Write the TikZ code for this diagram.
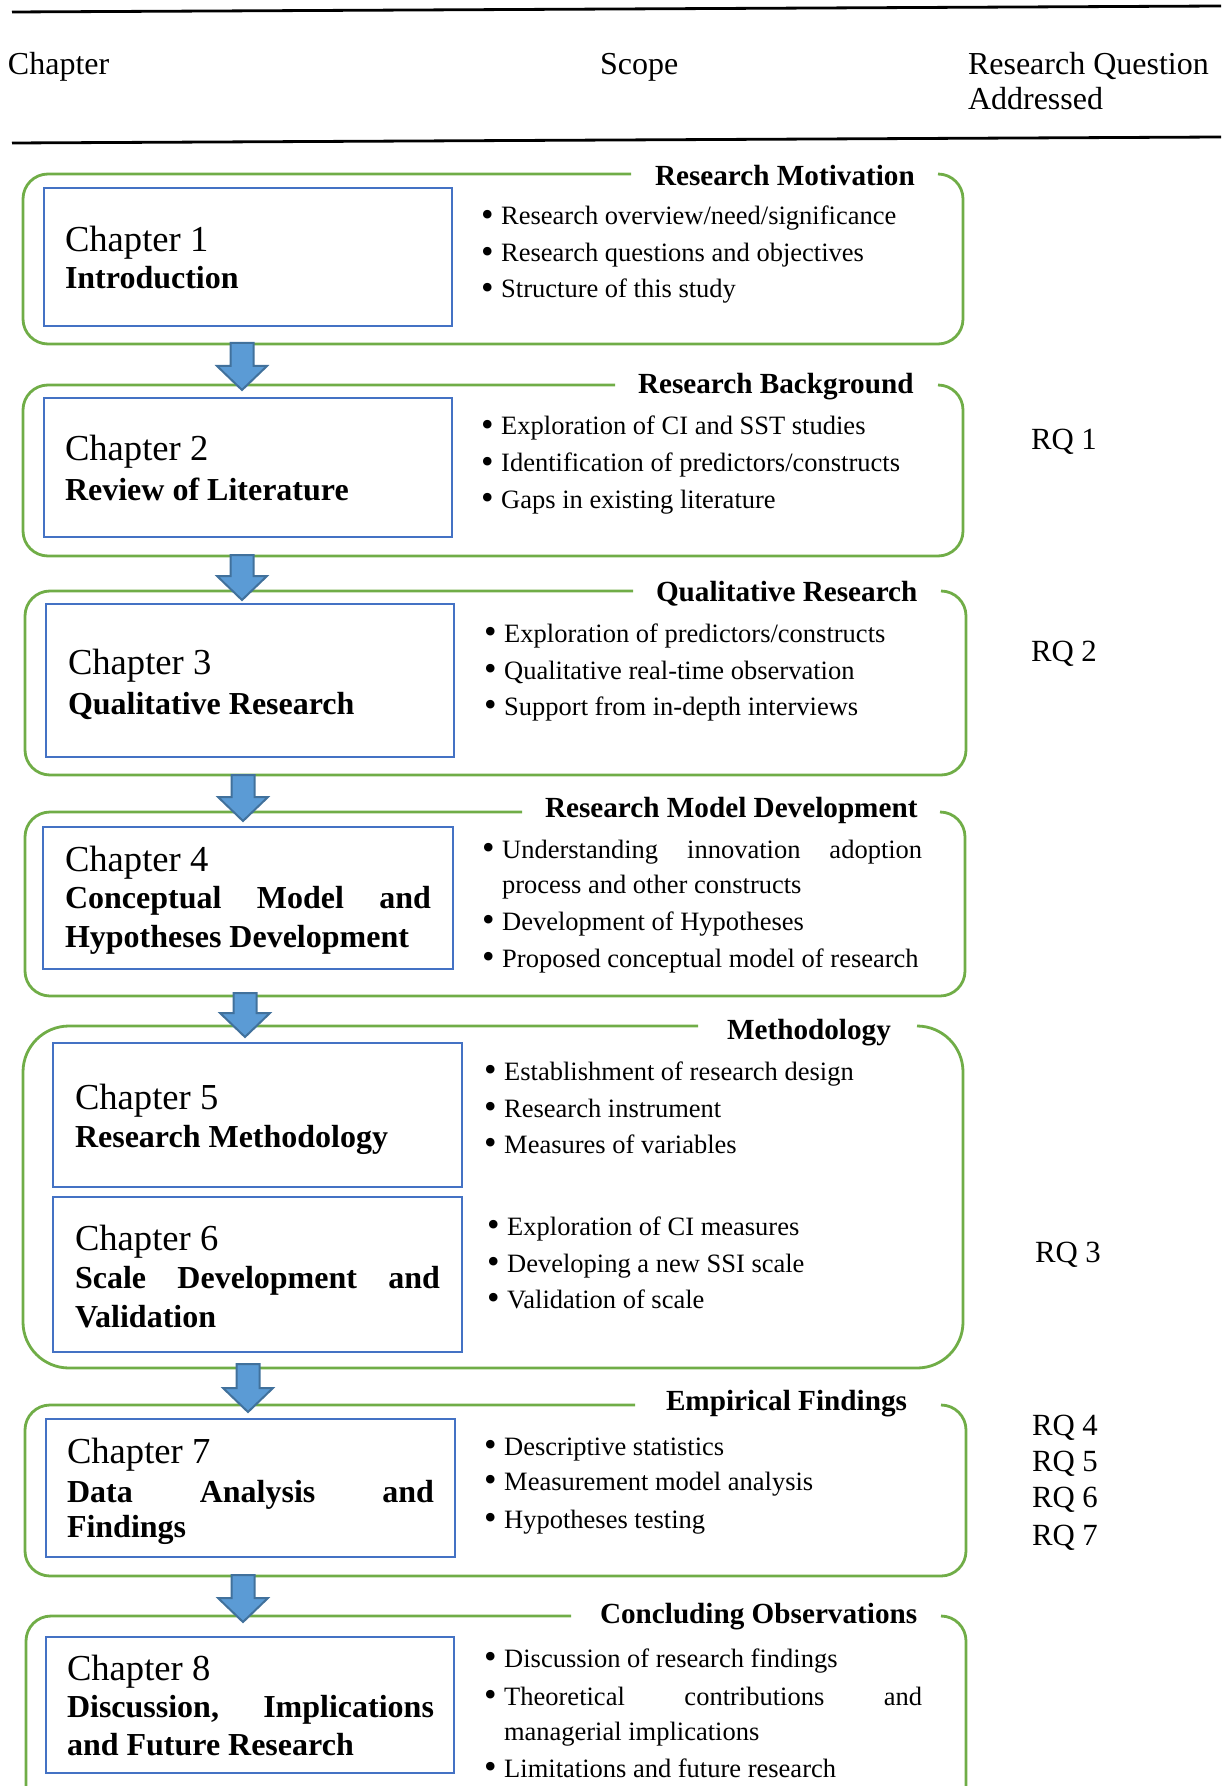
\documentclass[tikz,border=0pt]{standalone}
\usepackage{fontspec}
\setmainfont{Liberation Serif}
\usetikzlibrary{calc}
\definecolor{frameGreen}{HTML}{70AD47}
\definecolor{boxBlue}{HTML}{4472C4}
\definecolor{arrowFill}{HTML}{5B9BD5}
\definecolor{arrowLine}{HTML}{41719C}

% bullet item with a fixed indent
\newcommand\itm[1]{\makebox[7.6pt][l]{\hspace*{-2.4pt}\raisebox{-0.07em}{\scalebox{1.35}{\textbullet}}}#1}
% green scope frame: left, top, right, bottom, corner radius (px), end of the title gap
\newcommand\scopeframe[6]{%
  \draw[frame, rounded corners={#5*0.5pt}] ({#3-#5},#2) -- (#3,#2) -- (#3,#4) -- (#1,#4) -- (#1,#2) -- (#6,#2);}
% blue chapter box as a named node: name, x1, y1, x2, y2
\newcommand\chapterbox[5]{%
  \node[chapbox, minimum width={(#4-#2)*0.5pt}, minimum height={(#5-#3)*0.5pt}]
    (#1) at ({(#2+#4)/2},{(#3+#5)/2}) {};}
% block arrow between two named points (top of shaft, tip)
\newcommand\flowarrow[2]{%
  \draw[blk] ($(#1)+(-11.5,0)$) -- ($(#1)+(11.5,0)$) -- ($(#2)+(11.5,-24)$)
    -- ($(#2)+(25,-24)$) -- (#2) -- ($(#2)+(-25,-24)$) -- ($(#2)+(-11.5,-24)$) -- cycle;}

\begin{document}
\begin{tikzpicture}[x=0.5pt,y=-0.5pt,
  rule/.style={line width=1.4pt,black},
  frame/.style={draw=frameGreen,line width=1.4pt},
  chapbox/.style={draw=boxBlue,line width=1.3pt,inner sep=0pt,outer sep=0pt,fill=white},
  blk/.style={fill=arrowFill,draw=arrowLine,line width=1pt,line join=miter},
  txt/.style={anchor=base west,inner sep=0pt,outer sep=0pt},
  hdr/.style={txt,font=\fontsize{16}{19}\selectfont},
  chnum/.style={txt,font=\fontsize{18.3}{22}\selectfont},
  chttl/.style={txt,font=\fontsize{16}{19}\selectfont\bfseries},
  sect/.style={txt,font=\fontsize{14.6}{17}\selectfont\bfseries},
  item/.style={txt,font=\fontsize{13.25}{16}\selectfont},
  rq/.style={txt,font=\fontsize{15.4}{18}\selectfont}]

\useasboundingbox (0,0) rectangle (1221,1786);
\clip (0,0) rectangle (1221,1786);

% table head
\coordinate (r1a) at (12,12);  \coordinate (r1b) at (1221,6);
\coordinate (r2a) at (12,143); \coordinate (r2b) at (1221,137);
\draw[rule] (r1a) -- (r1b);
\draw[rule] (r2a) -- (r2b);
\node[hdr] (hChapter) at (8,75) {Chapter};
\node[hdr] (hScope) at (600,75) {Scope};
\node[hdr] (hRQ) at (968,75) {Research Question};
\node[hdr] (hRQb) at (968,110) {Addressed};

% scope frames
\scopeframe{23}{174}{963}{344}{25}{631}
\scopeframe{23}{385}{963}{556}{25}{615}
\scopeframe{25}{591}{966}{775}{25}{633}
\scopeframe{25}{812}{965}{996}{25}{522}
\scopeframe{23}{1026}{963}{1368}{46}{698}
\scopeframe{25}{1405}{966}{1576}{25}{635}
\scopeframe{26}{1616}{966}{1830}{25}{571}

% frame titles
\node[sect] (t1) at (655,186) {Research Motivation};
\node[sect] (t2) at (638,394) {Research Background};
\node[sect] (t3) at (656,601) {Qualitative Research};
\node[sect] (t4) at (545,817) {Research Model Development};
\node[sect] (t5) at (727,1039) {Methodology};
\node[sect] (t6) at (666,1410) {Empirical Findings};
\node[sect] (t7) at (600,1623) {Concluding Observations};

% arrows between frames
\coordinate (a1s) at (242,343);  \coordinate (a1e) at (242,390);
\coordinate (a2s) at (242,555);  \coordinate (a2e) at (242,600);
\coordinate (a3s) at (243,775);  \coordinate (a3e) at (243,821);
\coordinate (a4s) at (245,993);  \coordinate (a4e) at (245,1037);
\coordinate (a5s) at (248,1364); \coordinate (a5e) at (248,1412);
\coordinate (a6s) at (243,1575); \coordinate (a6e) at (243,1622);
\flowarrow{a1s}{a1e}
\flowarrow{a2s}{a2e}
\flowarrow{a3s}{a3e}
\flowarrow{a4s}{a4e}
\flowarrow{a5s}{a5e}
\flowarrow{a6s}{a6e}

% chapter boxes
\chapterbox{b1}{44}{188}{452}{326}
\chapterbox{b2}{44}{398}{452}{537}
\chapterbox{b3}{46}{604}{454}{757}
\chapterbox{b4}{43}{827}{453}{969}
\chapterbox{b5}{53}{1043}{462}{1187}
\chapterbox{b6}{53}{1197}{462}{1352}
\chapterbox{b7}{46}{1419}{455}{1557}
\chapterbox{b8}{46}{1637}{454}{1773}

% chapter texts
\node[chnum] (c1) at (65,252) {Chapter 1};
\node[chttl] (c1t) at (65,289) {Introduction};
\node[chnum] (c2) at (65,460) {Chapter 2};
\node[chttl] (c2t) at (65,500) {Review of Literature};
\node[chnum] (c3) at (68,674) {Chapter 3};
\node[chttl] (c3t) at (68,714) {Qualitative Research};
\node[chnum] (c4) at (65,871) {Chapter 4};
\node[chttl] (c4t) at (65,908) {\makebox[183pt][s]{Conceptual Model and}};
\node[chttl] (c4u) at (65,947) {Hypotheses Development};
\node[chnum] (c5) at (75,1109) {Chapter 5};
\node[chttl] (c5t) at (75,1147) {Research Methodology};
\node[chnum] (c6) at (75,1250) {Chapter 6};
\node[chttl] (c6t) at (75,1288) {\makebox[182.5pt][s]{Scale Development and}};
\node[chttl] (c6u) at (75,1327) {Validation};
\node[chnum] (c7) at (67,1463) {Chapter 7};
\node[chttl] (c7t) at (67,1502) {\makebox[183.5pt][s]{Data Analysis and}};
\node[chttl] (c7u) at (67,1537) {Findings};
\node[chnum] (c8) at (67,1680) {Chapter 8};
\node[chttl] (c8t) at (67,1717) {\makebox[183.5pt][s]{Discussion, Implications}};
\node[chttl] (c8u) at (67,1755) {and Future Research};

% scope items
\node[item] (s11) at (486,225) {\itm{Research overview/need/significance}};
\node[item] (s12) at (486,262) {\itm{Research questions and objectives}};
\node[item] (s13) at (486,298) {\itm{Structure of this study}};
\node[item] (s21) at (486,435) {\itm{Exploration of CI and SST studies}};
\node[item] (s22) at (486,472) {\itm{Identification of predictors/constructs}};
\node[item] (s23) at (486,508) {\itm{Gaps in existing literature}};
\node[item] (s31) at (489,642) {\itm{Exploration of predictors/constructs}};
\node[item] (s32) at (489,679) {\itm{Qualitative real-time observation}};
\node[item] (s33) at (489,715) {\itm{Support from in-depth interviews}};
\node[item] (s41) at (487,858) {\itm{\makebox[210pt][s]{Understanding innovation adoption}}};
\node[item] (s41b) at (502,893) {process and other constructs};
\node[item] (s42) at (487,930) {\itm{Development of Hypotheses}};
\node[item] (s43) at (487,967) {\itm{Proposed conceptual model of research}};
\node[item] (s51) at (489,1080) {\itm{Establishment of research design}};
\node[item] (s52) at (489,1117) {\itm{Research instrument}};
\node[item] (s53) at (489,1153) {\itm{Measures of variables}};
\node[item] (s61) at (492,1235) {\itm{Exploration of CI measures}};
\node[item] (s62) at (492,1272) {\itm{Developing a new SSI scale}};
\node[item] (s63) at (492,1308) {\itm{Validation of scale}};
\node[item] (s71) at (489,1455) {\itm{Descriptive statistics}};
\node[item] (s72) at (489,1490) {\itm{Measurement model analysis}};
\node[item] (s73) at (489,1528) {\itm{Hypotheses testing}};
\node[item] (s81) at (489,1667) {\itm{Discussion of research findings}};
\node[item] (s82) at (489,1705) {\itm{\makebox[209pt][s]{Theoretical contributions and}}};
\node[item] (s82b) at (504,1740) {managerial implications};
\node[item] (s83) at (489,1777) {\itm{Limitations and future research}};

% research questions
\node[rq] (q1) at (1031,450) {RQ 1};
\node[rq] (q2) at (1031,661) {RQ 2};
\node[rq] (q3) at (1035,1262) {RQ 3};
\node[rq] (q4) at (1032,1435) {RQ 4};
\node[rq] (q5) at (1032,1471) {RQ 5};
\node[rq] (q6) at (1032,1507) {RQ 6};
\node[rq] (q7) at (1032,1545) {RQ 7};
\end{tikzpicture}
\end{document}
